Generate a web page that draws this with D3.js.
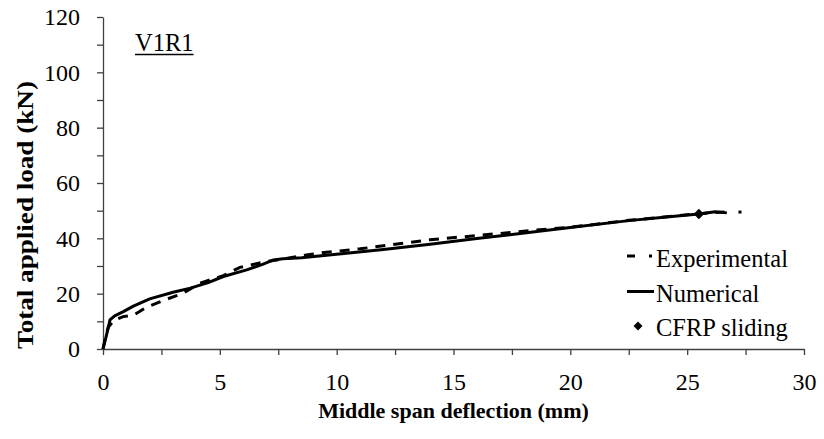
<!DOCTYPE html>
<html>
<head>
<meta charset="utf-8">
<script src="https://cdn.jsdelivr.net/npm/d3@7"></script>
<style>
  body { margin: 0; background: #fff; }
  svg { display: block; }
</style>
</head>
<body>
<div id="chart"></div>
<script>
const width = 824;
const height = 439;
const serif = "'Liberation Serif', 'Times New Roman', Tinos, 'DejaVu Serif', serif";

// Experimental curve (dashed)
const expX = [0, 0.1, 0.23, 0.5, 0.86, 1.3, 1.87, 2.73, 3.44, 4.15, 5.15, 5.86, 6.86, 7.7, 8.7, 9.57, 11, 14, 16, 18.7, 20, 22.5, 25, 26, 26.6];
const expY = [0, 4, 8, 10.5, 11.7, 12.2, 15.1, 18, 20.2, 23.8, 26.5, 29.5, 31.4, 32.5, 34, 35, 36.2, 39.5, 41, 43.1, 44, 46.5, 48.5, 49.2, 49.5];
// last isolated experimental point
const expEndX = [27.26];
const expEndY = [49.5];

// Numerical curve (solid)
const numX = [0, 0.15, 0.3, 0.5, 0.87, 1.3, 2.0, 3.0, 3.74, 4.5, 5.15, 6.15, 6.8, 7.3, 7.7, 8.5, 10.1, 12, 14, 16, 18.3, 20, 22.5, 24, 25.5, 26.2, 26.7];
const numY = [0, 5, 10.5, 12, 13.5, 15.5, 18.1, 20.5, 22, 24, 26.2, 28.6, 30.5, 32.2, 32.6, 33, 34.3, 36, 37.9, 39.9, 42.2, 43.9, 46.4, 47.6, 48.8, 49.6, 49.2];

// CFRP sliding point
const slideX = [25.5];
const slideY = [48.8];

const xTicks = [0, 5, 10, 15, 20, 25, 30];
const xMinor = [2.5, 7.5, 12.5, 17.5, 22.5, 27.5];
const yTicks = [0, 20, 40, 60, 80, 100, 120];
const yMinor = [10, 30, 50, 70, 90, 110];

const legendLabels = ["Experimental", "Numerical", "CFRP sliding"];

const svg = d3.select("#chart")
  .append("svg")
  .attr("width", width)
  .attr("height", height)
  .attr("font-family", serif)
  .style("font-family", serif);

const x = d3.scaleLinear().domain([0, 30]).range([103, 804]);
const y = d3.scaleLinear().domain([0, 120]).range([349, 17]);

// axes, major ticks labelled, minor ticks in between
svg.append("g")
  .attr("transform", `translate(0,${y(0)})`)
  .call(d3.axisBottom(x).tickValues(xTicks).tickSize(6).tickSizeOuter(0).tickPadding(18).tickFormat(d3.format("d")));
svg.append("g")
  .attr("transform", `translate(0,${y(0)})`)
  .call(d3.axisBottom(x).tickValues(xMinor).tickSize(6).tickSizeOuter(0).tickFormat(""))
  .select(".domain").remove();

svg.append("g")
  .attr("transform", `translate(${x(0)},0)`)
  .call(d3.axisLeft(y).tickValues(yTicks).tickSize(6).tickSizeOuter(0).tickPadding(17).tickFormat(d3.format("d")));
svg.append("g")
  .attr("transform", `translate(${x(0)},0)`)
  .call(d3.axisLeft(y).tickValues(yMinor).tickSize(6).tickSizeOuter(0).tickFormat(""))
  .select(".domain").remove();

svg.selectAll("g").attr("font-family", null).attr("font-size", null);
svg.selectAll(".domain, .tick line")
  .attr("stroke", "#404040")
  .attr("stroke-width", 1.3);
svg.selectAll(".tick text")
  .style("font-family", serif)
  .style("font-size", "24px")
  .attr("fill", "#000");

// axis titles
svg.append("text")
  .attr("x", x(15))
  .attr("y", 418)
  .attr("text-anchor", "middle")
  .style("font-family", serif)
  .style("font-size", "22px")
  .style("font-weight", "bold")
  .text("Middle span deflection (mm)");

svg.append("text")
  .attr("transform", `translate(33,215) rotate(-90) scale(1.13,1)`)
  .attr("text-anchor", "middle")
  .style("font-family", serif)
  .style("font-size", "24px")
  .style("font-weight", "bold")
  .text("Total applied load (kN)");

// specimen label
const label = svg.append("text")
  .attr("x", 135)
  .attr("y", 51)
  .style("font-family", serif)
  .style("font-size", "24.5px")
  .text("V1R1");
const lw = label.node().getComputedTextLength();
svg.append("line")
  .attr("x1", 135).attr("x2", 135 + lw)
  .attr("y1", 54.5).attr("y2", 54.5)
  .attr("stroke", "#000").attr("stroke-width", 1.3);

// curves
const line = d3.line()
  .x(d => x(d[0]))
  .y(d => y(d[1]));

const expData = expX.map((v, i) => [v, expY[i]]);
const numData = numX.map((v, i) => [v, numY[i]]);

svg.append("path")
  .datum(numData)
  .attr("d", line)
  .attr("fill", "none")
  .attr("stroke", "#000")
  .attr("stroke-width", 3)
  .attr("stroke-linejoin", "round");

svg.append("path")
  .datum(expData)
  .attr("d", line)
  .attr("fill", "none")
  .attr("stroke", "#000")
  .attr("stroke-width", 3)
  .attr("stroke-dasharray", "10,8");

svg.selectAll(".exp-end")
  .data(expEndX.map((v, i) => [v, expEndY[i]]))
  .join("rect")
  .attr("class", "exp-end")
  .attr("x", d => x(d[0]) - 1.5)
  .attr("y", d => y(d[1]) - 1.5)
  .attr("width", 3)
  .attr("height", 3)
  .attr("fill", "#000");

const diamond = d3.symbol().type(d3.symbolSquare);

svg.selectAll(".slide")
  .data(slideX.map((v, i) => [v, slideY[i]]))
  .join("path")
  .attr("class", "slide")
  .attr("d", diamond.size(55))
  .attr("transform", d => `translate(${x(d[0])},${y(d[1])}) rotate(45)`)
  .attr("fill", "#000");

// legend
const legend = svg.append("g");
legend.append("line")
  .attr("x1", 627).attr("x2", 652)
  .attr("y1", 256).attr("y2", 256)
  .attr("stroke", "#000").attr("stroke-width", 3)
  .attr("stroke-dasharray", "8,14");
legend.append("line")
  .attr("x1", 627).attr("x2", 654)
  .attr("y1", 291.5).attr("y2", 291.5)
  .attr("stroke", "#000").attr("stroke-width", 3);
legend.append("path")
  .attr("d", d3.symbol().type(d3.symbolSquare).size(40))
  .attr("transform", "translate(638,326) rotate(45)")
  .attr("fill", "#000");

const legendY = [267, 301.5, 336];
legend.selectAll("text")
  .data(legendLabels)
  .join("text")
  .attr("x", 656)
  .attr("y", (d, i) => legendY[i])
  .style("font-family", serif)
  .style("font-size", "24.5px")
  .text(d => d);
</script>
</body>
</html>
